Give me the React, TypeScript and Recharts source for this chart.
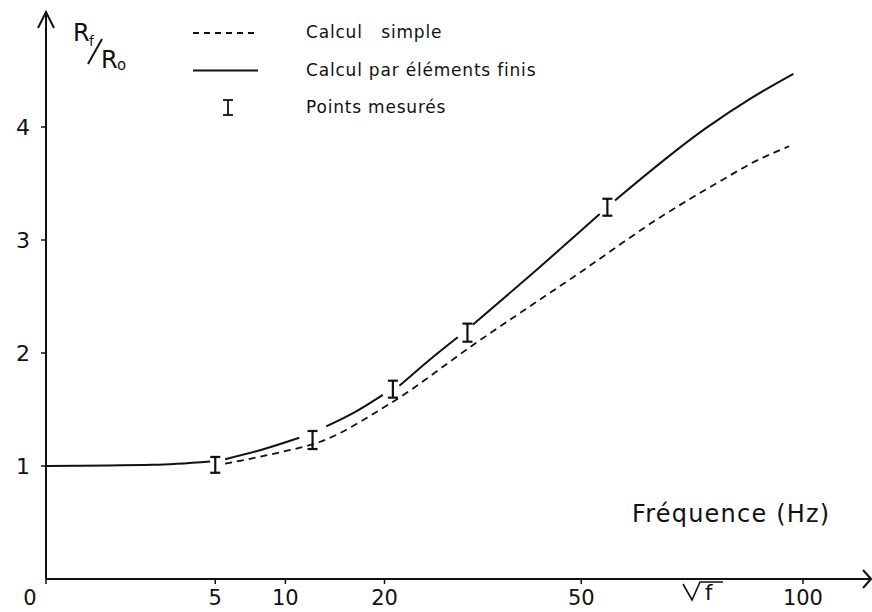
import { ComposedChart, Line, Scatter, ErrorBar, XAxis, YAxis, Customized } from 'recharts';

// frequency (Hz) and Rf/Ro
const simpleF = [5.6, 9.5, 13, 20.6, 32.3, 50, 65.8, 79.3, 88, 96.4];
const simpleR = [1.02, 1.12, 1.21, 1.55, 2.09, 2.72, 3.2, 3.52, 3.7, 3.83];

// finite elements curve, null = pen lifted around a measured point
const feF = [0, 2, 4.7, 5, 5.6, 8, 11.2, 12.4, 13.7, 16.5, 19.8, 21, 21.8, 25.5, 29.6, 31, 31.8, 41, 53.5, 55, 56.5, 76, 87, 97.5];
const feR = [1.0, 1.01, 1.04, null, 1.06, 1.14, 1.25, null, 1.35, 1.47, 1.63, null, 1.71, 1.93, 2.14, null, 2.25, 2.69, 3.23, null, 3.35, 3.99, 4.26, 4.47];

const measF = [5, 12.4, 21, 31, 55];
const measR = [1.01, 1.23, 1.68, 2.18, 3.29];
const measErr = [0.07, 0.08, 0.075, 0.08, 0.075];

const xTicks = [0, 5, 10, 20, 50, 100];
const yTicks = [1, 2, 3, 4];

const legendLabels = ['Calcul   simple', 'Calcul par éléments finis', 'Points mesurés'];

const simpleData = simpleF.map((f, i) => ({ f, r: simpleR[i] }));
const feData = feF.map((f, i) => ({ f, r: feR[i] }));
const measData = measF.map((f, i) => ({ f, r: measR[i], err: measErr[i] }));

const INK = '#111';
const FONT = '"DejaVu Sans", sans-serif';

function XTick({ x, y, payload }: any) {
  const shift = payload.value === 0 ? -16 : 0;
  return (
    <text x={x + shift} y={y} dy="0.71em" textAnchor="middle" fontSize={21} fontFamily={FONT} fill={INK}>
      {payload.value}
    </text>
  );
}

function YTick({ x, y, payload }: any) {
  return (
    <text x={x} y={y} dy="0.36em" textAnchor="end" fontSize={22} fontFamily={FONT} fill={INK}>
      {payload.value}
    </text>
  );
}

function Decor() {
  const txt = { fontFamily: FONT, fill: INK } as const;
  return (
    <g>
      {/* axis arrows */}
      <polyline points="38,28 46,12 54,28" fill="none" stroke={INK} strokeWidth={2} />
      <polyline points="863,570 871,579 863,588" fill="none" stroke={INK} strokeWidth={2} />

      {/* Rf / Ro */}
      <text x={73} y={41} fontSize={24} {...txt}>R</text>
      <text x={89} y={46} fontSize={14} {...txt}>f</text>
      <line x1={88} y1={64} x2={102} y2={39} stroke={INK} strokeWidth={2} />
      <text x={101} y={68} fontSize={24} {...txt}>R</text>
      <text x={117} y={70} fontSize={15} {...txt}>o</text>

      {/* sqrt f */}
      <polyline points="683,584 692,600 700,582 723,582" fill="none" stroke={INK} strokeWidth={1.6} />
      <text x={705} y={600} fontSize={21} {...txt}>f</text>

      <text x={632} y={522} fontSize={24} letterSpacing={1.2} {...txt}>Fréquence (Hz)</text>

      {/* legend */}
      <line x1={193} y1={33} x2={258} y2={33} stroke={INK} strokeWidth={1.8} strokeDasharray="6 5" />
      <line x1={193} y1={70.5} x2={258} y2={70.5} stroke={INK} strokeWidth={2} />
      <line x1={228} y1={100} x2={228} y2={115} stroke={INK} strokeWidth={1.8} />
      <line x1={223} y1={100} x2={233} y2={100} stroke={INK} strokeWidth={1.8} />
      <line x1={223} y1={115} x2={233} y2={115} stroke={INK} strokeWidth={1.8} />
      {legendLabels.map((label, i) => (
        <text key={label} x={306} y={38 + i * 37.5} fontSize={17} letterSpacing={0.8} style={{ whiteSpace: 'pre' }} {...txt}>
          {label}
        </text>
      ))}
    </g>
  );
}

export default function App() {
  return (
    <div style={{ width: 872, height: 612, background: '#fff' }}>
      <style>{'body{margin:0;background:#fff}'}</style>
      <ComposedChart width={872} height={612} margin={{ top: 14, right: 2, left: 0, bottom: 0 }}>
        <XAxis
          type="number"
          dataKey="f"
          scale="sqrt"
          domain={[0, 118.5]}
          ticks={xTicks}
          interval={0}
          allowDataOverflow
          height={33}
          tickSize={5}
          tickMargin={6}
          stroke={INK}
          axisLine={{ stroke: INK, strokeWidth: 2 }}
          tickLine={{ stroke: INK, strokeWidth: 1.5 }}
          tick={<XTick />}
        />
        <YAxis
          type="number"
          dataKey="r"
          domain={[0, 5]}
          ticks={yTicks}
          interval={0}
          width={46}
          tickSize={5}
          tickMargin={11}
          axisLine={{ stroke: INK, strokeWidth: 2 }}
          tickLine={{ stroke: INK, strokeWidth: 1.5 }}
          tick={<YTick />}
        />
        <Line
          data={simpleData}
          dataKey="r"
          type="monotone"
          stroke={INK}
          strokeWidth={1.8}
          strokeDasharray="7 5"
          dot={false}
          isAnimationActive={false}
        />
        <Line
          data={feData}
          dataKey="r"
          type="monotone"
          stroke={INK}
          strokeWidth={2}
          dot={false}
          connectNulls={false}
          isAnimationActive={false}
        />
        <Scatter data={measData} dataKey="r" shape={() => <g />} isAnimationActive={false}>
          <ErrorBar dataKey="err" direction="y" width={5} stroke={INK} strokeWidth={2.2} isAnimationActive={false} />
        </Scatter>
        <Customized component={<Decor />} />
      </ComposedChart>
    </div>
  );
}
